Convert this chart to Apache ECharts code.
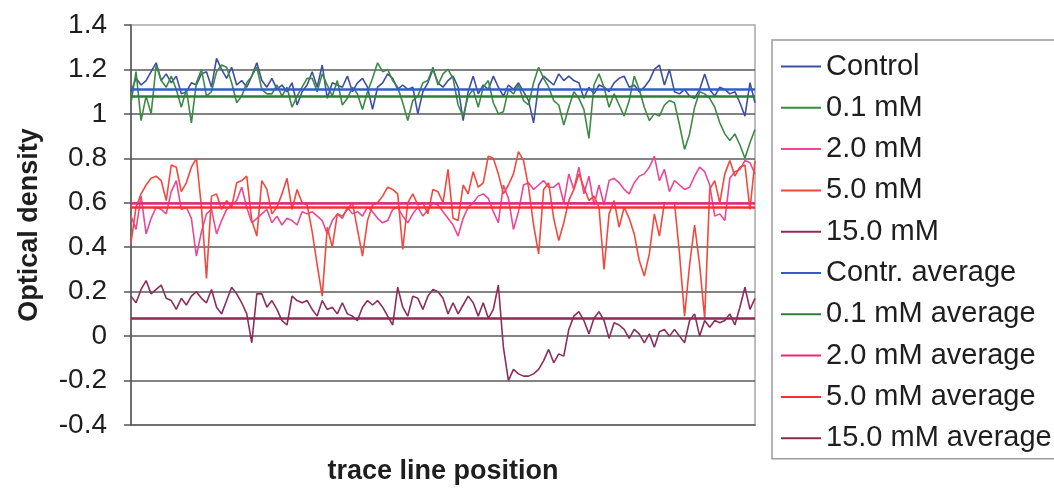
<!DOCTYPE html>
<html>
<head>
<meta charset="utf-8">
<script src="https://cdn.jsdelivr.net/npm/echarts@6/dist/echarts.min.js"></script>
<style>
html,body{margin:0;padding:0;background:#fff;}
#chart{width:1054px;height:490px;}
</style>
</head>
<body>
<div id="chart"></div>
<script>
// ---- data ----
const control = [1.10,1.16,1.13,1.15,1.19,1.23,1.15,1.18,1.14,1.17, 1.09,1.10,1.14,1.13,1.18,1.19,1.12,1.25,1.20,1.16,
  1.21,1.13,1.15,1.12,1.17,1.23,1.15,1.12,1.16,1.11, 1.13,1.10,1.14,1.04,1.10,1.13,1.19,1.12,1.22,1.07,
  1.14,1.13,1.12,1.17,1.10,1.14,1.16,1.12,1.02,1.12, 1.14,1.18,1.16,1.11,1.13,1.11,1.12,1.00,1.10,1.14,
  1.20,1.14,1.12,1.15,1.17,1.12,0.97,1.10,1.17,1.09, 1.13,1.11,1.17,1.12,1.08,1.13,1.11,1.14,1.10,1.06,
  0.96,1.13,1.17,1.15,1.13,1.18,1.15,1.17,1.15,1.14, 1.07,1.12,1.09,1.13,1.12,1.10,1.14,1.16,1.17,1.12,
  1.13,1.10,1.12,1.15,1.20,1.22,1.13,1.20,1.10,1.09, 1.11,1.08,1.07,1.11,1.18,1.11,1.08,1.12,1.11,1.09,
  1.10,1.05,0.99,1.14,1.05];
const mM01 = [1.05,1.19,0.97,1.08,1.00,1.22,1.15,1.12,1.17,1.11, 1.03,1.11,0.96,1.14,1.20,1.08,1.10,1.19,1.22,1.21,
  1.14,1.05,1.08,1.14,1.17,1.21,1.11,1.09,1.09,1.13, 1.08,1.12,1.03,1.08,1.12,1.16,1.16,1.10,1.18,1.13,
  1.08,1.15,1.04,1.07,1.12,1.09,1.02,1.10,1.16,1.23, 1.19,1.20,1.15,1.12,1.05,0.97,1.06,1.08,1.14,1.15,
  1.21,1.13,1.18,1.20,1.16,1.04,0.99,1.08,1.11,1.03, 1.12,1.15,1.05,1.00,1.01,1.11,1.09,1.13,1.06,1.04,
  1.14,1.21,1.16,1.12,1.06,1.04,0.95,1.03,1.10,1.07, 1.02,0.89,1.13,1.18,1.12,1.03,1.09,1.04,0.99,1.06,
  1.17,1.11,1.03,0.97,1.00,0.99,1.04,1.06,1.05,0.95, 0.84,0.91,1.03,1.10,1.09,1.07,1.03,0.96,0.91,0.88,
  0.91,0.86,0.80,0.87,0.93];
const mM2 = [0.54,0.48,0.63,0.46,0.53,0.58,0.57,0.55,0.65,0.70, 0.57,0.58,0.53,0.36,0.47,0.55,0.57,0.46,0.52,0.57,
  0.59,0.61,0.67,0.58,0.51,0.53,0.55,0.57,0.51,0.54, 0.50,0.53,0.52,0.50,0.56,0.55,0.56,0.54,0.52,0.46,
  0.52,0.55,0.53,0.58,0.55,0.56,0.54,0.58,0.56,0.53, 0.51,0.52,0.57,0.58,0.54,0.51,0.55,0.58,0.54,0.57,
  0.60,0.59,0.56,0.53,0.50,0.45,0.53,0.58,0.60,0.63, 0.64,0.62,0.56,0.51,0.68,0.62,0.48,0.56,0.68,0.69,
  0.66,0.68,0.70,0.67,0.67,0.69,0.60,0.73,0.66,0.76, 0.64,0.72,0.59,0.68,0.59,0.70,0.71,0.69,0.66,0.64,
  0.69,0.72,0.73,0.76,0.81,0.70,0.75,0.65,0.70,0.68, 0.66,0.67,0.72,0.76,0.74,0.68,0.54,0.55,0.52,0.71,
  0.74,0.75,0.79,0.78,0.73];
const mM5 = [0.42,0.58,0.64,0.68,0.71,0.72,0.70,0.61,0.77,0.76, 0.65,0.69,0.76,0.80,0.58,0.26,0.63,0.64,0.57,0.61,
  0.58,0.69,0.70,0.72,0.52,0.45,0.70,0.66,0.55,0.58, 0.64,0.71,0.57,0.66,0.60,0.59,0.47,0.32,0.18,0.49,
  0.40,0.55,0.54,0.57,0.60,0.48,0.36,0.52,0.59,0.60, 0.63,0.67,0.66,0.64,0.39,0.60,0.64,0.59,0.60,0.55,
  0.66,0.65,0.60,0.75,0.53,0.52,0.68,0.64,0.74,0.67, 0.69,0.81,0.80,0.73,0.64,0.68,0.73,0.83,0.79,0.67,
  0.50,0.37,0.66,0.69,0.53,0.43,0.51,0.61,0.66,0.73, 0.67,0.61,0.63,0.58,0.30,0.55,0.61,0.49,0.58,0.53,
  0.46,0.34,0.27,0.37,0.55,0.45,0.60,0.60,0.60,0.37, 0.09,0.32,0.50,0.32,0.08,0.66,0.70,0.60,0.73,0.79,
  0.72,0.76,0.77,0.57,0.79];
const mM15 = [0.18,0.15,0.21,0.25,0.19,0.21,0.23,0.17,0.16,0.12, 0.17,0.14,0.18,0.20,0.17,0.15,0.21,0.13,0.10,0.16,
  0.22,0.19,0.15,0.10,-0.03,0.19,0.19,0.13,0.16,0.12, 0.07,0.05,0.18,0.16,0.15,0.16,0.12,0.09,0.16,0.12,
  0.13,0.10,0.15,0.10,0.09,0.07,0.13,0.16,0.14,0.16, 0.13,0.09,0.05,0.22,0.13,0.09,0.18,0.17,0.12,0.18,
  0.21,0.20,0.17,0.10,0.15,0.10,0.14,0.18,0.15,0.09, 0.15,0.08,0.12,0.23,-0.05,-0.20,-0.15,-0.17,-0.18,-0.18,
  -0.17,-0.15,-0.11,-0.06,-0.12,-0.08,-0.09,0.03,0.09,0.11, 0.07,0.01,0.08,0.11,0.07,-0.01,0.06,0.05,0.03,-0.01,
  0.03,0.01,-0.03,0.01,-0.05,0.02,0.03,0.00,0.03,0.00, -0.03,0.07,0.10,0.00,0.07,0.04,0.07,0.06,0.07,0.10,
  0.05,0.13,0.22,0.12,0.17];
const averages = [1.11, 1.077, 0.60, 0.582, 0.082];
const traceNames = ['Control', '0.1 mM', '2.0 mM', '5.0 mM', '15.0 mM'];
const averageNames = ['Contr. average', '0.1 mM average', '2.0 mM average', '5.0 mM average', '15.0 mM average'];
const yTicks = [-0.4, 1.4, 0.2]; // min, max, step
const positions = control.map((_, i) => i + 1);

// ---- styling ----
const FONT = "'Liberation Sans', Arial, sans-serif";
const traceColors = ['#3d4fa3', '#3d8b43', '#ea4797', '#f2493d', '#8c2e5c'];
const avgColors = ['#2f5fc4', '#2e7d38', '#e8297c', '#f03232', '#8a2a55'];
const traces = [control, mM01, mM2, mM5, mM15];

const series = [];
traces.forEach((d, k) => {
  series.push({
    name: traceNames[k], type: 'line', data: d, symbol: 'none', showSymbol: false,
    color: traceColors[k], lineStyle: { color: traceColors[k], width: 1.6 }, z: 2
  });
});
averages.forEach((a, k) => {
  series.push({
    name: averageNames[k], type: 'line', data: [], symbol: 'none', showSymbol: false,
    color: avgColors[k], lineStyle: { color: avgColors[k], width: 2.6 }, z: 3,
    markLine: {
      silent: true, symbol: ['none', 'none'], label: { show: false },
      lineStyle: { color: avgColors[k], width: 2.6, type: 'solid' },
      emphasis: { disabled: true },
      data: [{ yAxis: a }]
    }
  });
});

const chart = echarts.init(document.getElementById('chart'), null, { renderer: 'canvas' });
chart.setOption({
  animation: false,
  backgroundColor: '#ffffff',
  textStyle: { fontFamily: FONT },
  grid: { left: 131, right: 299, top: 25, bottom: 65, show: true, borderColor: '#a8a8a8', borderWidth: 1.5,
          containLabel: false, outerBoundsMode: 'none' },
  legend: {
    orient: 'vertical', left: 772, top: 40,
    padding: [11, 8, 5, 8], itemGap: 10.3, itemWidth: 40, itemHeight: 2,
    borderColor: '#9a9a9a', borderWidth: 1.5, backgroundColor: '#fff',
    selectedMode: false,
    itemStyle: { opacity: 0 },
    textStyle: { fontSize: 29, color: '#1e1e1e', fontFamily: FONT, lineHeight: 31 },
    data: traceNames.concat(averageNames)
  },
  xAxis: {
    type: 'category', data: positions, boundaryGap: false,
    axisLine: { onZero: false, lineStyle: { color: '#555', width: 1.5 } },
    axisTick: { show: false }, axisLabel: { show: false }, splitLine: { show: false },
    name: 'trace line position', nameLocation: 'middle', nameGap: 33,
    nameTextStyle: { fontSize: 27, fontWeight: 'bold', color: '#1e1e1e', fontFamily: FONT }
  },
  yAxis: {
    type: 'value', min: yTicks[0], max: yTicks[1], interval: yTicks[2],
    axisLine: { show: true, lineStyle: { color: '#555', width: 1.5 } },
    axisTick: { show: true, length: 7, inside: false, lineStyle: { color: '#555', width: 1.5 } },
    axisLabel: { fontSize: 28, color: '#1e1e1e', margin: 24, fontFamily: FONT,
                 formatter: v => String(Math.round(v * 10) / 10) },
    splitLine: { show: true, showMinLine: false, showMaxLine: false, lineStyle: { color: '#5a5a5a', width: 1.5 } },
    name: 'Optical density', nameLocation: 'middle', nameGap: 88, nameRotate: 90,
    nameTextStyle: { fontSize: 27, fontWeight: 'bold', color: '#1e1e1e', fontFamily: FONT }
  },
  series: series
});
</script>
</body>
</html>
